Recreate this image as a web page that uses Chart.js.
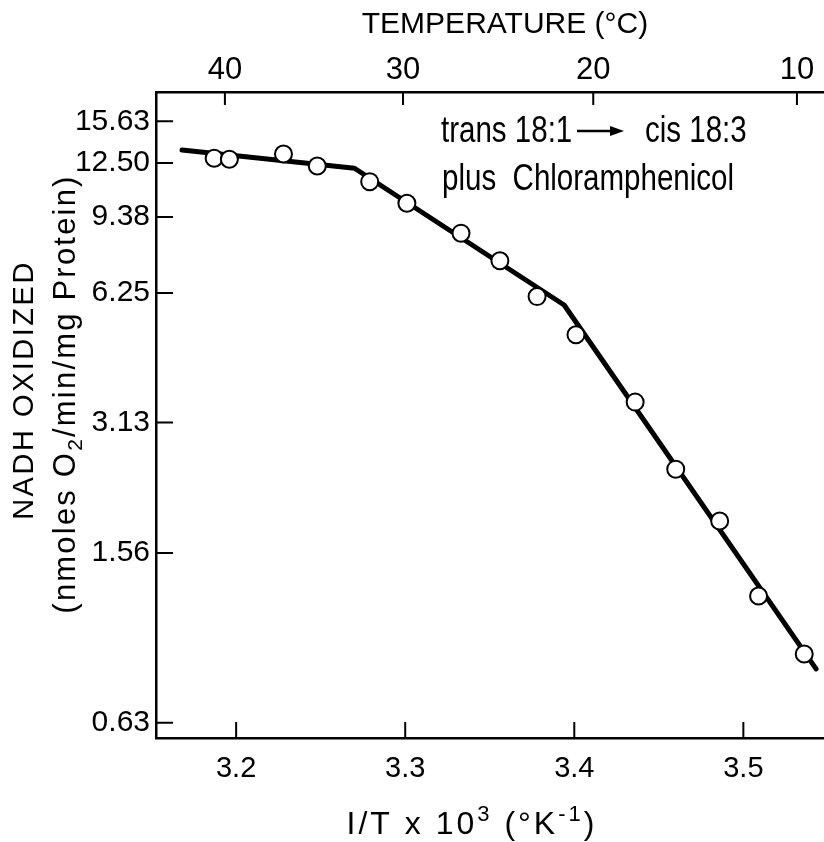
<!DOCTYPE html>
<html>
<head>
<meta charset="utf-8">
<title>NADH oxidation vs 1/T</title>
<script src="https://cdn.jsdelivr.net/npm/chart.js@4.4.0/dist/chart.umd.min.js"></script>
<style>
  html, body { margin: 0; padding: 0; background: #fff; }
  canvas { display: block; }
</style>
</head>
<body>
<canvas id="nadhChart" width="824" height="842"></canvas>
<script>
// measured points: 1/T x 10^3 (K^-1) against NADH oxidized (nmoles O2/min/mg protein)
const invTemp = [3.187, 3.196, 3.228, 3.248, 3.279, 3.301, 3.333, 3.356, 3.378, 3.401, 3.436, 3.460, 3.486, 3.509, 3.536];
const nadhRate = [12.83, 12.76, 13.12, 12.31, 11.32, 10.09, 8.60, 7.42, 6.13, 5.00, 3.49, 2.44, 1.85, 1.24, 0.91];

// broken straight line drawn through the points
const fitInvTemp = [3.168, 3.270, 3.394, 3.543];
const fitRate = [13.41, 12.16, 5.86, 0.84];

// axis ticks
const rateTicks = [0.63, 1.56, 3.13, 6.25, 9.38, 12.50, 15.63];
const invTempTicks = [3.2, 3.3, 3.4, 3.5];
const celsiusTicks = [40, 30, 20, 10];

const FONT = "'Liberation Sans', Arial, sans-serif";
Chart.defaults.font.family = FONT;
Chart.defaults.color = '#000';

const X_MIN = 3.1526, X_MAX = 3.5477;

function toInvTemp(c) {
    return 1000 / (c + 273.15);
}

// draws a row of text pieces (sizes / baseline shifts) starting at x or centred on it
function drawRuns(ctx, runs, x, y, align, spacing) {
    ctx.letterSpacing = (spacing || 0) + 'px';
    let total = 0;
    runs.forEach(r => {
        ctx.font = r.size + 'px ' + FONT;
        r.w = ctx.measureText(r.text).width;
        total += r.w;
    });
    let cx = align === 'center' ? x - total / 2 : x;
    ctx.textAlign = 'left';
    ctx.textBaseline = 'alphabetic';
    runs.forEach(r => {
        ctx.font = r.size + 'px ' + FONT;
        ctx.fillText(r.text, cx, y + (r.dy || 0));
        cx += r.w;
    });
    ctx.letterSpacing = '0px';
}

const inkPlugin = {
    id: 'ink',
    afterDraw(chart) {
        const { ctx, chartArea: a, scales } = chart;
        ctx.save();
        ctx.strokeStyle = '#000';
        ctx.fillStyle = '#000';
        ctx.lineWidth = 2;

        // tick marks point into the plot
        ctx.beginPath();
        rateTicks.forEach(v => {
            const y = scales.y.getPixelForValue(v);
            ctx.moveTo(a.left, y);
            ctx.lineTo(a.left + 17, y);
        });
        invTempTicks.forEach(v => {
            const x = scales.x.getPixelForValue(v);
            ctx.moveTo(x, a.bottom);
            ctx.lineTo(x, a.bottom - 16);
        });
        celsiusTicks.forEach(c => {
            const x = scales.x2.getPixelForValue(toInvTemp(c));
            ctx.moveTo(x, a.top);
            ctx.lineTo(x, a.top + 13);
        });
        ctx.stroke();

        // axis titles
        drawRuns(ctx, [{ text: 'TEMPERATURE (°C)', size: 30 }], 505, 33, 'center');
        drawRuns(ctx, [
            { text: 'I/T x 10', size: 32 },
            { text: '3', size: 22, dy: -13 },
            { text: ' (°K', size: 32 },
            { text: '-1', size: 22, dy: -13 },
            { text: ')', size: 32 }
        ], 472, 834, 'center', 3);

        ctx.save();
        ctx.translate(33, 390);
        ctx.rotate(-Math.PI / 2);
        drawRuns(ctx, [{ text: 'NADH OXIDIZED', size: 29 }], 0, 0, 'center', 2.5);
        ctx.restore();

        ctx.save();
        ctx.translate(75, 394);
        ctx.rotate(-Math.PI / 2);
        drawRuns(ctx, [
            { text: '(nmoles O', size: 31 },
            { text: '2', size: 21, dy: 7 },
            { text: '/min/mg Protein)', size: 31 }
        ], 0, 0, 'center', 2.2);
        ctx.restore();

        // note inside the plot, narrow lettering
        ctx.font = '36px ' + FONT;
        ctx.textAlign = 'left';
        ctx.textBaseline = 'alphabetic';
        [['trans 18:1', 441, 142], ['cis 18:3', 645, 142], ['plus  Chloramphenicol', 442, 190]].forEach(([t, x, y]) => {
            ctx.save();
            ctx.translate(x, y);
            ctx.scale(0.82, 1);
            ctx.fillText(t, 0, 0);
            ctx.restore();
        });
        ctx.lineWidth = 2.5;
        ctx.beginPath();
        ctx.moveTo(577, 131);
        ctx.lineTo(612, 131);
        ctx.stroke();
        ctx.beginPath();
        ctx.moveTo(624, 131);
        ctx.lineTo(610, 126);
        ctx.lineTo(610, 136);
        ctx.closePath();
        ctx.fill();

        ctx.restore();
    }
};

new Chart(document.getElementById('nadhChart'), {
    type: 'scatter',
    data: {
        datasets: [
            {
                label: 'measured',
                data: invTemp.map((x, i) => ({ x: x, y: nadhRate[i] })),
                pointRadius: 8.5,
                pointBorderWidth: 2,
                pointBackgroundColor: '#fff',
                pointBorderColor: '#000',
                showLine: false,
                order: 0
            },
            {
                label: 'fit',
                data: fitInvTemp.map((x, i) => ({ x: x, y: fitRate[i] })),
                showLine: true,
                borderColor: '#000',
                borderWidth: 5,
                borderCapStyle: 'round',
                borderJoinStyle: 'round',
                pointRadius: 0,
                tension: 0,
                order: 1
            }
        ]
    },
    options: {
        responsive: false,
        animation: false,
        devicePixelRatio: 1,
        layout: { padding: 0, autoPadding: false },
        plugins: {
            legend: { display: false },
            tooltip: { enabled: false }
        },
        scales: {
            x: {
                type: 'linear',
                position: 'bottom',
                min: X_MIN,
                max: X_MAX,
                bounds: 'data',
                afterBuildTicks: s => { s.ticks = invTempTicks.map(v => ({ value: v })); },
                afterFit: s => { s.height = 104; s.paddingLeft = 0; s.paddingRight = 0; },
                grid: { display: true, drawOnChartArea: false, drawTicks: false },
                border: { display: true, color: '#000', width: 2.5 },
                ticks: {
                    font: { size: 29 },
                    padding: 14,
                    autoSkip: false,
                    maxRotation: 0,
                    callback: v => v.toFixed(1)
                }
            },
            x2: {
                axis: 'x',
                type: 'linear',
                position: 'top',
                min: X_MIN,
                max: X_MAX,
                bounds: 'data',
                afterBuildTicks: s => { s.ticks = celsiusTicks.map(c => ({ value: toInvTemp(c) })); },
                afterFit: s => { s.height = 92; s.paddingLeft = 0; s.paddingRight = 0; },
                grid: { display: true, drawOnChartArea: false, drawTicks: false },
                border: { display: true, color: '#000', width: 2.5 },
                ticks: {
                    font: { size: 31 },
                    padding: 3,
                    autoSkip: false,
                    maxRotation: 0,
                    callback: (v, i) => String(celsiusTicks[i])
                }
            },
            y: {
                type: 'logarithmic',
                position: 'left',
                min: 0.581,
                max: 18.27,
                afterBuildTicks: s => { s.ticks = rateTicks.map(v => ({ value: v })); },
                afterFit: s => { s.width = 156; },
                grid: { display: true, drawOnChartArea: false, drawTicks: false },
                border: { display: true, color: '#000', width: 2.5 },
                ticks: {
                    font: { size: 30 },
                    padding: 6,
                    autoSkip: false,
                    callback: v => Number(v).toFixed(2)
                }
            }
        }
    },
    plugins: [inkPlugin]
});
</script>
</body>
</html>
